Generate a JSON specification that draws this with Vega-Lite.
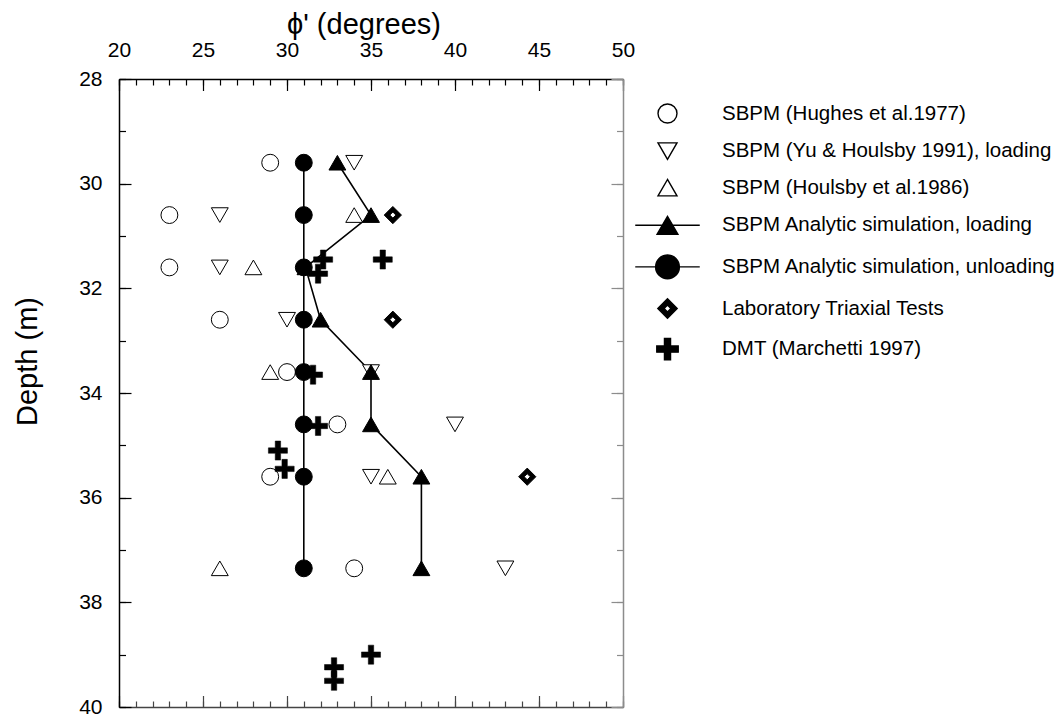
{
  "$schema": "https://vega.github.io/schema/vega-lite/v6.json",
  "width": 504,
  "height": 628,
  "autosize": {"type": "none"},
  "padding": {"left": 119, "top": 79, "right": 439, "bottom": 8},
  "background": "white",
  "config": {
    "font": "Liberation Sans",
    "view": {"stroke": null},
    "axis": {"grid": false, "labelFlush": false, "labelOverlap": false, "labelBound": false, "labelColor": "black", "titleColor": "black", "titleFontWeight": "normal"},
    "legend": {"symbolStrokeColor": "black", "symbolStrokeWidth": 1.4}
  },
  "data": {
    "values": [
      {"series": "SBPM (Hughes et al.1977)", "phi": 29, "depth": 29.6},
      {"series": "SBPM (Hughes et al.1977)", "phi": 23, "depth": 30.6},
      {"series": "SBPM (Hughes et al.1977)", "phi": 23, "depth": 31.6},
      {"series": "SBPM (Hughes et al.1977)", "phi": 26, "depth": 32.6},
      {"series": "SBPM (Hughes et al.1977)", "phi": 30, "depth": 33.6},
      {"series": "SBPM (Hughes et al.1977)", "phi": 33, "depth": 34.6},
      {"series": "SBPM (Hughes et al.1977)", "phi": 29, "depth": 35.6},
      {"series": "SBPM (Hughes et al.1977)", "phi": 34, "depth": 37.35},
      {"series": "SBPM (Yu & Houlsby 1991), loading", "phi": 34, "depth": 29.6},
      {"series": "SBPM (Yu & Houlsby 1991), loading", "phi": 26, "depth": 30.6},
      {"series": "SBPM (Yu & Houlsby 1991), loading", "phi": 26, "depth": 31.6},
      {"series": "SBPM (Yu & Houlsby 1991), loading", "phi": 30, "depth": 32.6},
      {"series": "SBPM (Yu & Houlsby 1991), loading", "phi": 35, "depth": 33.6},
      {"series": "SBPM (Yu & Houlsby 1991), loading", "phi": 40, "depth": 34.6},
      {"series": "SBPM (Yu & Houlsby 1991), loading", "phi": 35, "depth": 35.6},
      {"series": "SBPM (Yu & Houlsby 1991), loading", "phi": 43, "depth": 37.35},
      {"series": "SBPM (Houlsby et al.1986)", "phi": 34, "depth": 30.6},
      {"series": "SBPM (Houlsby et al.1986)", "phi": 28, "depth": 31.6},
      {"series": "SBPM (Houlsby et al.1986)", "phi": 29, "depth": 33.6},
      {"series": "SBPM (Houlsby et al.1986)", "phi": 36, "depth": 35.6},
      {"series": "SBPM (Houlsby et al.1986)", "phi": 26, "depth": 37.35},
      {"series": "SBPM Analytic simulation, loading", "phi": 33, "depth": 29.6},
      {"series": "SBPM Analytic simulation, loading", "phi": 35, "depth": 30.6},
      {"series": "SBPM Analytic simulation, loading", "phi": 31.1, "depth": 31.6},
      {"series": "SBPM Analytic simulation, loading", "phi": 32, "depth": 32.6},
      {"series": "SBPM Analytic simulation, loading", "phi": 35, "depth": 33.6},
      {"series": "SBPM Analytic simulation, loading", "phi": 35, "depth": 34.6},
      {"series": "SBPM Analytic simulation, loading", "phi": 38, "depth": 35.6},
      {"series": "SBPM Analytic simulation, loading", "phi": 38, "depth": 37.35},
      {"series": "SBPM Analytic simulation, unloading", "phi": 31, "depth": 29.6},
      {"series": "SBPM Analytic simulation, unloading", "phi": 31, "depth": 30.6},
      {"series": "SBPM Analytic simulation, unloading", "phi": 31, "depth": 31.6},
      {"series": "SBPM Analytic simulation, unloading", "phi": 31, "depth": 32.6},
      {"series": "SBPM Analytic simulation, unloading", "phi": 31, "depth": 33.6},
      {"series": "SBPM Analytic simulation, unloading", "phi": 31, "depth": 34.6},
      {"series": "SBPM Analytic simulation, unloading", "phi": 31, "depth": 35.6},
      {"series": "SBPM Analytic simulation, unloading", "phi": 31, "depth": 37.35},
      {"series": "Laboratory Triaxial Tests", "phi": 36.3, "depth": 30.6},
      {"series": "Laboratory Triaxial Tests", "phi": 36.3, "depth": 32.6},
      {"series": "Laboratory Triaxial Tests", "phi": 44.3, "depth": 35.6},
      {"series": "DMT (Marchetti 1997)", "phi": 32.15, "depth": 31.45},
      {"series": "DMT (Marchetti 1997)", "phi": 31.85, "depth": 31.72},
      {"series": "DMT (Marchetti 1997)", "phi": 35.7, "depth": 31.45},
      {"series": "DMT (Marchetti 1997)", "phi": 31.55, "depth": 33.65},
      {"series": "DMT (Marchetti 1997)", "phi": 31.85, "depth": 34.63},
      {"series": "DMT (Marchetti 1997)", "phi": 29.46, "depth": 35.1},
      {"series": "DMT (Marchetti 1997)", "phi": 29.86, "depth": 35.45},
      {"series": "DMT (Marchetti 1997)", "phi": 35.0, "depth": 39.0},
      {"series": "DMT (Marchetti 1997)", "phi": 32.8, "depth": 39.24},
      {"series": "DMT (Marchetti 1997)", "phi": 32.8, "depth": 39.5}
    ]
  },
  "resolve": {"axis": {"x": "independent", "y": "independent"}},
  "layer": [
    {
      "transform": [{"filter": {"field": "series", "oneOf": ["SBPM Analytic simulation, loading", "SBPM Analytic simulation, unloading"]}}],
      "mark": {"type": "line", "color": "black", "strokeWidth": 1.6},
      "encoding": {
        "x": {"field": "phi", "type": "quantitative", "scale": {"domain": [20, 50], "nice": false, "zero": false},
          "axis": {"orient": "top", "title": "ϕ' (degrees)", "values": [20, 25, 30, 35, 40, 45, 50],
            "tickSize": -11.5, "labelPadding": 30, "labelFontSize": 21, "titleFontSize": 29, "titleX": 244.5, "titleY": -40, "titleBaseline": "bottom",
            "domainColor": "black", "domainWidth": 1.5, "tickColor": "black", "tickWidth": 1.2}},
        "y": {"field": "depth", "type": "quantitative", "scale": {"domain": [28, 40], "nice": false, "zero": false, "reverse": true},
          "axis": {"orient": "left", "title": "Depth (m)", "values": [28, 30, 32, 34, 36, 38, 40],
            "tickSize": -12, "labelPadding": 29, "labelFontSize": 21, "titleFontSize": 29, "titlePadding": 36, "titleY": 282,
            "domainColor": "black", "domainWidth": 1.5, "tickColor": "black", "tickWidth": 1.2}},
        "detail": {"field": "series"},
        "order": {"field": "depth", "type": "quantitative"}
      }
    },
    {
      "transform": [{"filter": {"field": "series", "oneOf": ["SBPM (Hughes et al.1977)", "SBPM (Yu & Houlsby 1991), loading", "SBPM (Houlsby et al.1986)", "Laboratory Triaxial Tests"]}}],
      "mark": {"type": "point", "stroke": "black", "strokeWidth": 1, "size": 285, "opacity": 1},
      "encoding": {
        "x": {"field": "phi", "type": "quantitative", "scale": {"domain": [20, 50], "nice": false, "zero": false},
          "axis": {"orient": "bottom", "title": null, "labels": false, "values": [20, 25, 30, 35, 40, 45, 50],
            "tickSize": -11.5, "domainColor": "#444444", "domainWidth": 1.5, "tickColor": "#444444", "tickWidth": 1.2}},
        "y": {"field": "depth", "type": "quantitative", "scale": {"domain": [28, 40], "nice": false, "zero": false, "reverse": true},
          "axis": {"orient": "right", "title": null, "labels": false, "values": [28, 30, 32, 34, 36, 38, 40],
            "tickSize": -12, "domainColor": "#8c8c8c", "domainWidth": 1.5, "tickColor": "#8c8c8c", "tickWidth": 1.2}},
        "shape": {"field": "series", "type": "nominal",
          "scale": {"domain": ["SBPM (Hughes et al.1977)", "SBPM (Yu & Houlsby 1991), loading", "SBPM (Houlsby et al.1986)", "SBPM Analytic simulation, loading", "SBPM Analytic simulation, unloading", "Laboratory Triaxial Tests", "DMT (Marchetti 1997)"],
            "range": ["circle", "triangle-down", "triangle-up", "M-3.4,0H3.4M0,-0.95L-1.1,0.95L1.1,0.95Z", "M-3.4,0H3.4M1.25,0A1.25,1.25,0,1,1,-1.25,0A1.25,1.25,0,1,1,1.25,0Z", "M0,-1.02L1.02,0L0,1.02L-1.02,0ZM0,-0.36L-0.36,0L0,0.36L0.36,0Z", "M-1.13,-0.32H-0.32V-1.13H0.32V-0.32H1.13V0.32H0.32V1.13H-0.32V0.32H-1.13Z"]},
          "legend": {"title": null, "orient": "none", "legendX": 538, "legendY": 24, "symbolSize": 360, "labelFontSize": 20.5, "labelColor": "black", "labelOffset": 44, "rowPadding": 13.6, "labelLimit": 600, "symbolStrokeColor": "black", "symbolStrokeWidth": 1.4, "padding": 0,
            "encoding": {"symbols": {"stroke": {"value": "black"}, "strokeWidth": {"value": 1.4}, "strokeOpacity": {"value": 1}}}}},
        "fill": {"field": "series", "type": "nominal",
          "scale": {"domain": ["SBPM (Hughes et al.1977)", "SBPM (Yu & Houlsby 1991), loading", "SBPM (Houlsby et al.1986)", "SBPM Analytic simulation, loading", "SBPM Analytic simulation, unloading", "Laboratory Triaxial Tests", "DMT (Marchetti 1997)"],
            "range": ["white", "white", "white", "black", "black", "black", "black"]},
          "legend": {"title": null, "orient": "none", "legendX": 538, "legendY": 24, "symbolSize": 360, "labelFontSize": 20.5, "labelColor": "black", "labelOffset": 44, "rowPadding": 13.6, "labelLimit": 600, "symbolStrokeColor": "black", "symbolStrokeWidth": 1.4, "padding": 0,
            "encoding": {"symbols": {"stroke": {"value": "black"}, "strokeWidth": {"value": 1.4}, "strokeOpacity": {"value": 1}}}}}
      }
    },
    {
      "transform": [{"filter": {"field": "series", "equal": "SBPM Analytic simulation, loading"}}],
      "mark": {"type": "point", "shape": "triangle-up", "stroke": "black", "strokeWidth": 1, "size": 285, "opacity": 1},
      "encoding": {
        "x": {"field": "phi", "type": "quantitative", "scale": {"domain": [20, 50], "nice": false, "zero": false},
          "axis": {"orient": "top", "title": null, "labels": false, "domain": false, "values": [20,21,22,23,24,25,26,27,28,29,30,31,32,33,34,35,36,37,38,39,40,41,42,43,44,45,46,47,48,49,50],
            "tickSize": -6, "tickColor": "black", "tickWidth": 1.2}},
        "y": {"field": "depth", "type": "quantitative", "scale": {"domain": [28, 40], "nice": false, "zero": false, "reverse": true},
          "axis": {"orient": "left", "title": null, "labels": false, "domain": false, "values": [28,29,30,31,32,33,34,35,36,37,38,39,40],
            "tickSize": -6.5, "tickColor": "black", "tickWidth": 1.2}},
        "fill": {"field": "series", "type": "nominal",
          "scale": {"domain": ["SBPM (Hughes et al.1977)", "SBPM (Yu & Houlsby 1991), loading", "SBPM (Houlsby et al.1986)", "SBPM Analytic simulation, loading", "SBPM Analytic simulation, unloading", "Laboratory Triaxial Tests", "DMT (Marchetti 1997)"],
            "range": ["white", "white", "white", "black", "black", "black", "black"]},
          "legend": {"title": null, "orient": "none", "legendX": 538, "legendY": 24, "symbolSize": 360, "labelFontSize": 20.5, "labelColor": "black", "labelOffset": 44, "rowPadding": 13.6, "labelLimit": 600, "symbolStrokeColor": "black", "symbolStrokeWidth": 1.4, "padding": 0,
            "encoding": {"symbols": {"stroke": {"value": "black"}, "strokeWidth": {"value": 1.4}, "strokeOpacity": {"value": 1}}}}}
      }
    },
    {
      "transform": [{"filter": {"field": "series", "equal": "SBPM Analytic simulation, unloading"}}],
      "mark": {"type": "point", "shape": "circle", "stroke": "black", "strokeWidth": 1, "size": 285, "opacity": 1},
      "encoding": {
        "x": {"field": "phi", "type": "quantitative", "scale": {"domain": [20, 50], "nice": false, "zero": false},
          "axis": {"orient": "bottom", "title": null, "labels": false, "domain": false, "values": [20,21,22,23,24,25,26,27,28,29,30,31,32,33,34,35,36,37,38,39,40,41,42,43,44,45,46,47,48,49,50],
            "tickSize": -6, "tickColor": "#444444", "tickWidth": 1.2}},
        "y": {"field": "depth", "type": "quantitative", "scale": {"domain": [28, 40], "nice": false, "zero": false, "reverse": true},
          "axis": {"orient": "right", "title": null, "labels": false, "domain": false, "values": [28,29,30,31,32,33,34,35,36,37,38,39,40],
            "tickSize": -6.5, "tickColor": "#8c8c8c", "tickWidth": 1.2}},
        "fill": {"field": "series", "type": "nominal",
          "scale": {"domain": ["SBPM (Hughes et al.1977)", "SBPM (Yu & Houlsby 1991), loading", "SBPM (Houlsby et al.1986)", "SBPM Analytic simulation, loading", "SBPM Analytic simulation, unloading", "Laboratory Triaxial Tests", "DMT (Marchetti 1997)"],
            "range": ["white", "white", "white", "black", "black", "black", "black"]},
          "legend": {"title": null, "orient": "none", "legendX": 538, "legendY": 24, "symbolSize": 360, "labelFontSize": 20.5, "labelColor": "black", "labelOffset": 44, "rowPadding": 13.6, "labelLimit": 600, "symbolStrokeColor": "black", "symbolStrokeWidth": 1.4, "padding": 0,
            "encoding": {"symbols": {"stroke": {"value": "black"}, "strokeWidth": {"value": 1.4}, "strokeOpacity": {"value": 1}}}}}
      }
    },
    {
      "transform": [{"filter": {"field": "series", "equal": "DMT (Marchetti 1997)"}}],
      "mark": {"type": "point", "stroke": "black", "strokeWidth": 0.5, "size": 285, "opacity": 1},
      "encoding": {
        "x": {"field": "phi", "type": "quantitative", "scale": {"domain": [20, 50], "nice": false, "zero": false}, "axis": null},
        "y": {"field": "depth", "type": "quantitative", "scale": {"domain": [28, 40], "nice": false, "zero": false, "reverse": true}, "axis": null},
        "shape": {"field": "series", "type": "nominal",
          "scale": {"domain": ["SBPM (Hughes et al.1977)", "SBPM (Yu & Houlsby 1991), loading", "SBPM (Houlsby et al.1986)", "SBPM Analytic simulation, loading", "SBPM Analytic simulation, unloading", "Laboratory Triaxial Tests", "DMT (Marchetti 1997)"],
            "range": ["circle", "triangle-down", "triangle-up", "M-3.4,0H3.4M0,-0.95L-1.1,0.95L1.1,0.95Z", "M-3.4,0H3.4M1.25,0A1.25,1.25,0,1,1,-1.25,0A1.25,1.25,0,1,1,1.25,0Z", "M0,-1.02L1.02,0L0,1.02L-1.02,0ZM0,-0.36L-0.36,0L0,0.36L0.36,0Z", "M-1.13,-0.32H-0.32V-1.13H0.32V-0.32H1.13V0.32H0.32V1.13H-0.32V0.32H-1.13Z"]},
          "legend": {"title": null, "orient": "none", "legendX": 538, "legendY": 24, "symbolSize": 360, "labelFontSize": 20.5, "labelColor": "black", "labelOffset": 44, "rowPadding": 13.6, "labelLimit": 600, "symbolStrokeColor": "black", "symbolStrokeWidth": 1.4, "padding": 0,
            "encoding": {"symbols": {"stroke": {"value": "black"}, "strokeWidth": {"value": 1.4}, "strokeOpacity": {"value": 1}}}}},
        "fill": {"field": "series", "type": "nominal",
          "scale": {"domain": ["SBPM (Hughes et al.1977)", "SBPM (Yu & Houlsby 1991), loading", "SBPM (Houlsby et al.1986)", "SBPM Analytic simulation, loading", "SBPM Analytic simulation, unloading", "Laboratory Triaxial Tests", "DMT (Marchetti 1997)"],
            "range": ["white", "white", "white", "black", "black", "black", "black"]},
          "legend": {"title": null, "orient": "none", "legendX": 538, "legendY": 24, "symbolSize": 360, "labelFontSize": 20.5, "labelColor": "black", "labelOffset": 44, "rowPadding": 13.6, "labelLimit": 600, "symbolStrokeColor": "black", "symbolStrokeWidth": 1.4, "padding": 0,
            "encoding": {"symbols": {"stroke": {"value": "black"}, "strokeWidth": {"value": 1.4}, "strokeOpacity": {"value": 1}}}}}
      }
    }
  ]
}
